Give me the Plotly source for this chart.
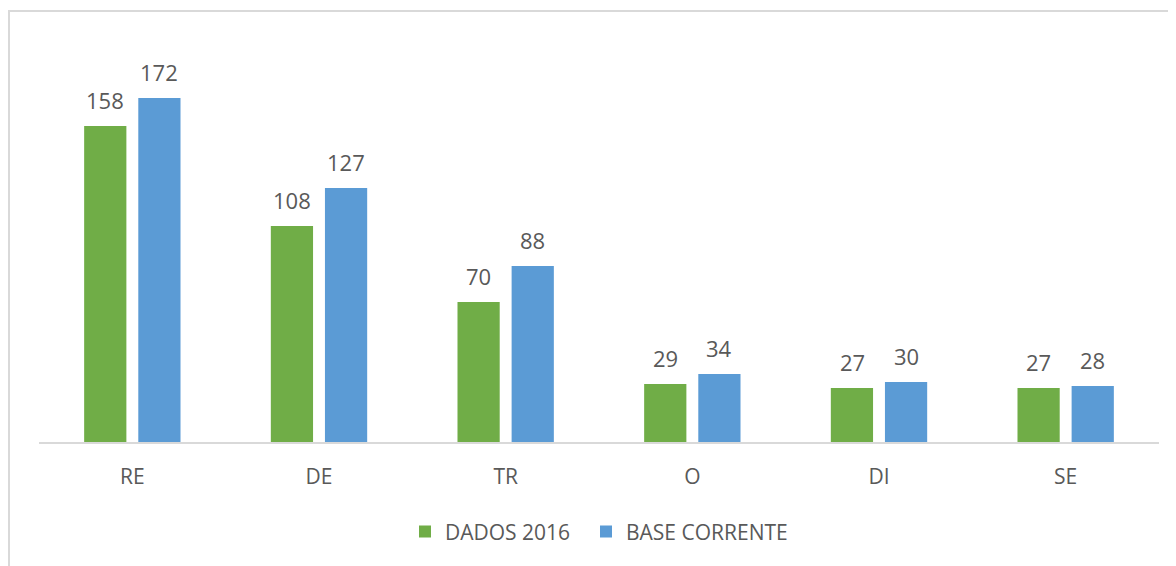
import plotly.graph_objects as go

categories = ["RE", "DE", "TR", "O", "DI", "SE"]
dados_2016 = [158, 108, 70, 29, 27, 27]
base_corrente = [172, 127, 88, 34, 30, 28]

FONT = "Open Sans"
TXT = "#595959"

fig = go.Figure()
fig.add_trace(go.Bar(
    x=categories, y=dados_2016, name="DADOS 2016\u00a0\u00a0",
    marker=dict(color="#70AD47", line=dict(width=0)),
))
fig.add_trace(go.Bar(
    x=categories, y=base_corrente, name="BASE CORRENTE",
    marker=dict(color="#5B9BD5", line=dict(width=0)),
))

# value labels above each bar (bar centres sit +/-27px from category centre)
annotations = []
for series, shift in ((dados_2016, -27), (base_corrente, 27)):
    for cat, val in zip(categories, series):
        annotations.append(dict(
            x=cat, y=val, xref="x", yref="y", text=str(val), showarrow=False,
            xanchor="center", yanchor="bottom", xshift=shift, yshift=9,
            font=dict(family=FONT, size=22, color=TXT)))

# page body has an 8px margin, so the figure is drawn 8px smaller and offset
fig.update_layout(
    width=1168, height=558,
    margin=dict(l=31, r=17, t=22, b=124),
    paper_bgcolor="white", plot_bgcolor="white",
    barmode="group", bargap=0.42, bargroupgap=0.22,
    font=dict(family=FONT, color=TXT),
    showlegend=True,
    legend=dict(orientation="h", x=0.5, xanchor="center", y=-0.218, yanchor="middle",
                font=dict(family=FONT, size=21, color=TXT), itemwidth=30,
                traceorder="normal"),
    xaxis=dict(showline=True, linecolor="#d9d9d9", linewidth=2, ticks="",
               tickfont=dict(family=FONT, size=21, color=TXT),
               ticklabelstandoff=15, showgrid=False, zeroline=False),
    yaxis=dict(range=[0, 206], visible=False, showgrid=False, zeroline=False),
    annotations=annotations,
    shapes=[dict(type="rect", xref="paper", yref="paper",
                 x0=(1 - 31) / 1120, x1=1.2, y0=-1, y1=(434 - 3) / 412,
                 line=dict(color="#d9d9d9", width=2), fillcolor="rgba(0,0,0,0)",
                 layer="below")],
)

fig.write_html("out.html")
